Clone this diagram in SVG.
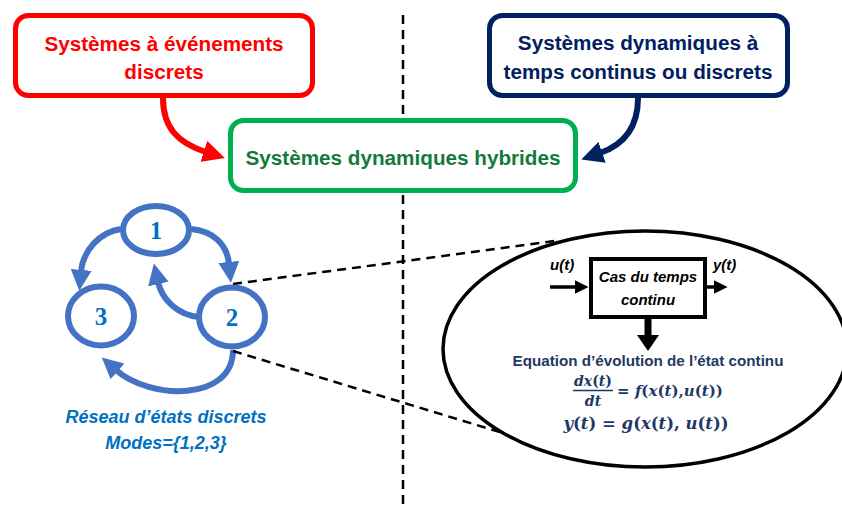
<svg xmlns="http://www.w3.org/2000/svg" width="842" height="509" viewBox="0 0 842 509">
<style>
.hdr{font-family:"Liberation Sans",Arial,sans-serif;font-weight:bold;font-size:20.7px;text-anchor:middle}
.num{font-family:"Liberation Serif","Times New Roman",serif;font-weight:bold;font-size:25px;fill:#0070c0;text-anchor:middle}
.node{fill:#fff;stroke:#4472c4;stroke-width:6}
.blue{fill:none;stroke:#4472c4;stroke-width:6}
.dash{fill:none;stroke:#000;stroke-width:2.5;stroke-dasharray:9 6}
.lbl{font-family:"Liberation Sans",Arial,sans-serif;font-weight:bold;font-style:italic;font-size:15px;fill:#000}
.math{font-family:"DejaVu Serif","Liberation Serif",serif;font-weight:bold;fill:#1f3864;text-anchor:middle}
.i{font-style:italic}
</style>
<defs>
<marker id="mr" viewBox="0 0 10 10" refX="1" refY="5" markerWidth="22" markerHeight="22" markerUnits="userSpaceOnUse" orient="auto"><path d="M0,0 L10,5 L0,10 Z" fill="#ff0000"/></marker>
<marker id="mn" viewBox="0 0 10 10" refX="1" refY="5" markerWidth="22" markerHeight="22" markerUnits="userSpaceOnUse" orient="auto"><path d="M0,0 L10,5 L0,10 Z" fill="#002060"/></marker>
<marker id="mb" viewBox="0 0 10 10" refX="1" refY="5" markerWidth="21" markerHeight="21" markerUnits="userSpaceOnUse" orient="auto"><path d="M0,0 L10,5 L0,10 Z" fill="#4472c4"/></marker>
<marker id="mk" viewBox="0 0 10 10" refX="1" refY="5" markerWidth="14" markerHeight="14" markerUnits="userSpaceOnUse" orient="auto"><path d="M0,0 L10,5 L0,10 Z" fill="#000"/></marker>
</defs>
<rect width="842" height="509" fill="#fff"/>
<g id="separator">
<line x1="403" y1="15" x2="403" y2="509" class="dash" stroke-width="2.5" stroke-dasharray="10 7"/>
</g>
<g id="connectors">
<path d="M163,98 C163,128 178,143 206,152" fill="none" stroke="#ff0000" stroke-width="6" marker-end="url(#mr)"/>
<path d="M638,98 C638,125 626,144 600,153" fill="none" stroke="#002060" stroke-width="6" marker-end="url(#mn)"/>
<path d="M191,229 C213,231 227,244 229,264" class="blue" marker-end="url(#mb)"/>
<path d="M121,229 C100,232 83,250 81,272" class="blue" marker-end="url(#mb)"/>
<path d="M199,317 C178,315 162,300 158,282" class="blue" marker-end="url(#mb)"/>
<path d="M233,350 C233,402 150,400 116,370" class="blue" marker-end="url(#mb)"/>
<line x1="233" y1="284" x2="555" y2="241" class="dash"/>
<line x1="233" y1="351" x2="503" y2="433" class="dash"/>
</g>
<g id="n-discrete">
<rect x="15.5" y="15.5" width="297" height="80" rx="13" fill="#fff" stroke="#ff0000" stroke-width="5"/>
<text class="hdr" x="164" y="51" fill="#ff0000">Systèmes à événements</text>
<text class="hdr" x="164" y="79" fill="#ff0000">discrets</text>
</g>
<g id="n-continuous">
<rect x="489.5" y="15.5" width="298" height="80" rx="13" fill="#fff" stroke="#002060" stroke-width="5"/>
<text class="hdr" x="638" y="50" fill="#002060">Systèmes dynamiques à</text>
<text class="hdr" x="638" y="79" fill="#002060">temps continus ou discrets</text>
</g>
<g id="n-hybrid">
<rect x="230.5" y="120.5" width="345" height="70" rx="13" fill="#fff" stroke="#00b050" stroke-width="5"/>
<text class="hdr" x="403" y="165" fill="#137a3c">Systèmes dynamiques hybrides</text>
</g>
<g id="mode1">
<ellipse cx="156" cy="230" rx="33" ry="24" class="node"/>
<text class="num" x="156" y="239">1</text>
</g>
<g id="mode3">
<ellipse cx="101" cy="316" rx="33" ry="29.5" class="node"/>
<text class="num" x="101" y="325">3</text>
</g>
<g id="mode2">
<ellipse cx="232" cy="317" rx="33" ry="29.5" class="node"/>
<text class="num" x="232" y="326">2</text>
</g>
<g id="network-label" font-family="'Liberation Sans',Arial,sans-serif" font-weight="bold" font-style="italic" font-size="18" fill="#0070c0" text-anchor="middle">
<text x="166" y="423">Réseau d’états discrets</text>
<text x="166" y="449">Modes={1,2,3}</text>
</g>
<g id="zoom-ellipse">
<ellipse cx="645" cy="349" rx="202" ry="118" fill="none" stroke="#000" stroke-width="3.5"/>
</g>
<g id="block">
<rect x="591" y="259" width="114" height="58" fill="#fff" stroke="#000" stroke-width="4"/>
<text class="lbl" x="648" y="282" text-anchor="middle">Cas du temps</text>
<text class="lbl" x="648" y="305" text-anchor="middle">continu</text>
<text class="lbl" x="550" y="270">u(t)</text>
<text class="lbl" x="713" y="270">y(t)</text>
<line x1="550" y1="287" x2="576" y2="287" stroke="#000" stroke-width="3.5" marker-end="url(#mk)"/>
<line x1="707" y1="287" x2="715" y2="287" stroke="#000" stroke-width="3.5" marker-end="url(#mk)"/>
<rect x="644.5" y="318" width="7" height="18" fill="#000"/>
<path d="M637,335 L659,335 L648,351 Z" fill="#000"/>
</g>
<g id="equations">
<text x="648" y="366" font-family="'Liberation Sans',Arial,sans-serif" font-weight="bold" font-size="15.2" fill="#1f3864" text-anchor="middle">Equation d’évolution de l’état continu</text>
<text class="math" x="593" y="386" font-size="14"><tspan class="i">dx</tspan>(<tspan class="i">t</tspan>)</text>
<line x1="573" y1="390.5" x2="613" y2="390.5" stroke="#1f3864" stroke-width="1.3"/>
<text class="math" x="593" y="406" font-size="14"><tspan class="i">dt</tspan></text>
<text class="math" x="670" y="396" font-size="15">= <tspan class="i">f</tspan>(<tspan class="i">x</tspan>(<tspan class="i">t</tspan>),<tspan class="i">u</tspan>(<tspan class="i">t</tspan>))</text>
<text class="math" x="646" y="429" font-size="16.5"><tspan class="i">y</tspan>(<tspan class="i">t</tspan>) = <tspan class="i">g</tspan>(<tspan class="i">x</tspan>(<tspan class="i">t</tspan>), <tspan class="i">u</tspan>(<tspan class="i">t</tspan>))</text>
</g>
</svg>
